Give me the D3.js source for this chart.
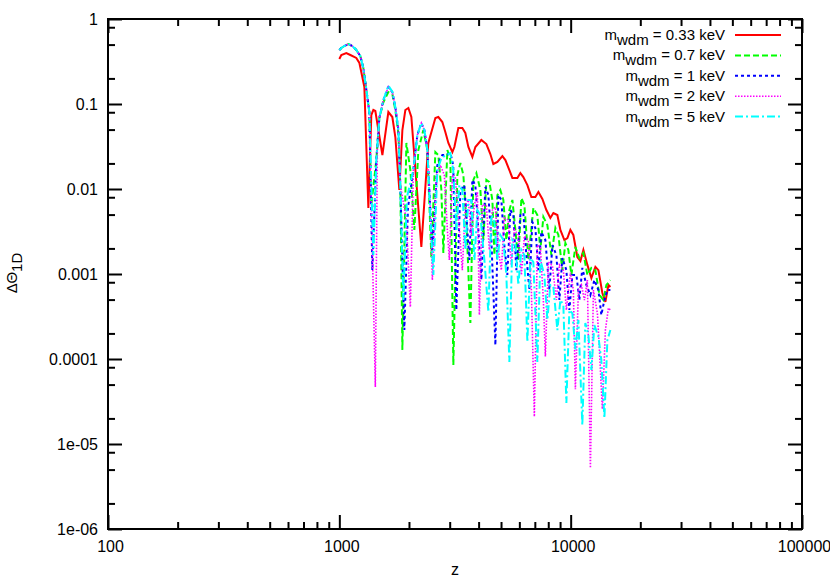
<!DOCTYPE html>
<html>
<head>
<meta charset="utf-8">
<script src="https://cdn.jsdelivr.net/npm/d3@7"></script>
<style>
body{margin:0;background:#fff}
svg{display:block}
text{font-family:"Liberation Sans",Arial,sans-serif;font-size:15px;fill:#000}
</style>
</head>
<body>
<svg id="chart" width="830" height="581"></svg>
<script>
// axis ticks
const xTicks = [100, 1000, 10000, 100000];
const yTicks = [1, 0.1, 0.01, 0.001, 0.0001, 1e-5, 1e-6];
const yTickLabels = ["1", "0.1", "0.01", "0.001", "0.0001", "1e-05", "1e-06"];

const masses = ["0.33", "0.7", "1", "2", "5"];
const colors = ["#ff0000", "#00ff00", "#0000ff", "#ff00ff", "#00ffff"];
const dashes = [null, "6,3", "3,3", "1.5,1.5", "8,3,2,3"];

// [z, dTheta]
const wdm033 = [[1000,0.338],[1020,0.377],[1072,0.398],[1116,0.377],[1184,0.348],[1221,0.304],[1257,0.208],[1283,0.158],[1335,0.00598],[1375,0.0742],[1403,0.085],[1431,0.0827],[1535,0.0251],[1629,0.0805],[1695,0.0703],[1746,0.0409],[1817,0.00973],[1873,0.0494],[1929,0.085],[1988,0.0897],[2048,0.0703],[2262,0.00208],[2425,0.0348],[2601,0.0684],[2679,0.0703],[2788,0.0614],[2872,0.0469],[2960,0.0348],[3081,0.0272],[3143,0.0312],[3270,0.0522],[3402,0.0522],[3505,0.0456],[3612,0.0312],[3759,0.0238],[3873,0.0312],[4111,0.0377],[4321,0.0338],[4496,0.0258],[4632,0.0197],[4822,0.0208],[5068,0.0244],[5222,0.0219],[5433,0.0167],[5598,0.0135],[5884,0.0135],[6061,0.0154],[6244,0.0138],[6500,0.0111],[6763,0.00805],[7037,0.00805],[7253,0.00922],[7546,0.00763],[7852,0.00566],[8170,0.00456],[8418,0.00522],[8760,0.00494],[9027,0.0033],[9393,0.00251],[9679,0.00265],[9970,0.0033],[10270,0.00288],[10690,0.00158],[11020,0.00142],[11350,0.00192],[11810,0.00128],[12290,0.000897],[12790,0.00121],[13180,0.00111],[13710,0.000598],[14130,0.000469],[14560,0.000743],[14850,0.000703]];

const earlyPeak = [[1000,0.432],[1020,0.456],[1051,0.481],[1094,0.508],[1138,0.481],[1184,0.432],[1232,0.367],[1270,0.265],[1309,0.146],[1348,0.0805]];

const wdm07 = [[1375,0.00648],[1445,0.0219],[1489,0.0684],[1550,0.105],[1629,0.138],[1695,0.13],[1746,0.085],[1800,0.045],[1835,0.0111],[1873,0.000128],[1949,0.0348],[2028,0.0167],[2110,0.0033],[2196,0.0288],[2308,0.0494],[2402,0.0288],[2499,0.00158],[2601,0.0272],[2679,0.025],[2761,0.00973],[2816,0.00177],[2931,0.0288],[3020,0.0219],[3111,0.000085],[3237,0.0146],[3336,0.0202],[3437,0.0146],[3540,0.00432],[3685,0.000265],[3797,0.0128],[3912,0.0154],[4071,0.00973],[4195,0.00251],[4321,0.0128],[4452,0.0121],[4587,0.00743],[4680,0.00167],[4822,0.0085],[4966,0.00973],[5117,0.00743],[5272,0.00251],[5433,0.00566],[5598,0.00743],[5767,0.0033],[5941,0.00146],[6123,0.00784],[6308,0.00648],[6563,0.00146],[6898,0.00598],[7178,0.00494],[7397,0.00192],[7620,0.00469],[7930,0.00377],[8255,0.00167],[8589,0.00348],[8850,0.00288],[9206,0.00111],[9486,0.00232],[9773,0.00192],[10070,0.000973],[10480,0.00208],[10900,0.00154],[11350,0.00177],[11810,0.000973],[12290,0.00118],[12790,0.00111],[13310,0.000566],[13850,0.000494],[14270,0.000743],[14850,0.000849]];

const wdm1 = [[1389,0.00111],[1445,0.0219],[1489,0.0684],[1550,0.111],[1629,0.158],[1695,0.138],[1746,0.0922],[1800,0.0494],[1835,0.0111],[1910,0.000219],[1980,0.006],[2089,0.0167],[2174,0.0432],[2262,0.0598],[2331,0.0494],[2402,0.0288],[2524,0.00192],[2653,0.0191],[2788,0.0251],[2901,0.0251],[3020,0.0265],[3107,0.0191],[3205,0.000377],[3336,0.00973],[3470,0.0111],[3575,0.0033],[3648,0.00146],[3759,0.0128],[3873,0.0111],[3990,0.0033],[4111,0.00085],[4278,0.01057],[4408,0.0085],[4542,0.00251],[4727,0.000146],[4869,0.0085],[5016,0.00743],[5168,0.00219],[5324,0.000973],[5486,0.00566],[5652,0.00494],[5824,0.00111],[6061,0.00494],[6244,0.00522],[6433,0.00167],[6628,0.000648],[6828,0.00409],[7037,0.00348],[7253,0.00111],[7468,0.00312],[7775,0.00251],[8091,0.000648],[8336,0.00219],[8676,0.00167],[8939,0.000494],[9206,0.00154],[9581,0.00111],[9871,0.000377],[10170,0.000973],[10590,0.000973],[10900,0.000494],[11230,0.00118],[11690,0.000743],[12170,0.000566],[12660,0.000849],[13180,0.000648],[13570,0.00033],[13990,0.000494],[14410,0.000648],[14850,0.000648]];

const wdm2 = [[1431,0.0000468],[1460,0.03],[1489,0.0684],[1550,0.111],[1629,0.158],[1695,0.138],[1746,0.0922],[1800,0.0494],[1835,0.0111],[1949,0.00432],[2028,0.000409],[2089,0.0167],[2174,0.0432],[2262,0.0598],[2331,0.0494],[2402,0.0288],[2474,0.00566],[2524,0.000849],[2627,0.0146],[2734,0.0191],[2844,0.0146],[2931,0.0033],[2989,0.00146],[3081,0.0146],[3173,0.0135],[3303,0.0033],[3402,0.00111],[3505,0.00648],[3612,0.00743],[3721,0.00288],[3836,0.00648],[3952,0.00922],[4030,0.00033],[4152,0.00648],[4321,0.00648],[4452,0.00192],[4587,0.00566],[4727,0.0061],[4869,0.00192],[5016,0.00111],[5168,0.00456],[5378,0.00432],[5541,0.00128],[5709,0.0033],[5941,0.00288],[6123,0.000973],[6308,0.0028],[6563,0.00251],[6763,0.000648],[6966,0.000021],[7178,0.00219],[7397,0.00205],[7620,0.000494],[7775,0.000107],[8010,0.00138],[8336,0.00125],[8676,0.000494],[8939,0.00128],[9298,0.00111],[9581,0.000377],[9970,0.00104],[10270,0.000648],[10480,0.000044],[10800,0.000648],[11130,0.000743],[11470,0.000494],[11810,0.000849],[12170,0.00000522],[12540,0.000648],[13050,0.000345],[13310,0.00013],[13710,0.0000258],[14130,0.000219],[14560,0.000398],[14850,0.000377]];

const wdm5 = [[1403,0.00167],[1445,0.0219],[1489,0.0684],[1550,0.111],[1629,0.165],[1695,0.14],[1746,0.0922],[1800,0.0494],[1835,0.0111],[1891,0.000494],[1960,0.008],[2089,0.0167],[2174,0.0432],[2262,0.0598],[2331,0.0494],[2402,0.0288],[2474,0.00494],[2550,0.000973],[2653,0.0167],[2761,0.0232],[2901,0.025],[3020,0.0265],[3107,0.0167],[3205,0.0033],[3303,0.0111],[3402,0.00973],[3505,0.00192],[3612,0.00743],[3721,0.00743],[3836,0.00146],[3952,0.00566],[4071,0.00494],[4237,0.00146],[4408,0.000357],[4542,0.00494],[4680,0.00409],[4822,0.00146],[4966,0.00288],[5117,0.00251],[5272,0.000973],[5433,0.0000922],[5598,0.00251],[5767,0.00219],[5941,0.000743],[6123,0.00192],[6308,0.00167],[6500,0.000158],[6694,0.00154],[6898,0.00138],[7178,0.0000922],[7397,0.00146],[7697,0.000973],[7930,0.000288],[8170,0.000743],[8418,0.000703],[8760,0.000219],[9027,0.000494],[9298,0.000432],[9581,0.0000304],[9871,0.000377],[10170,0.000345],[10480,0.00013],[10800,0.000288],[11230,0.0000167],[11570,0.000265],[11930,0.000192],[12290,0.0000743],[12660,0.000251],[13180,0.000183],[13570,0.0000973],[13990,0.0000202],[14410,0.000167],[14850,0.000219]];

const allSeries = [wdm033, earlyPeak.concat(wdm07), earlyPeak.concat(wdm1), earlyPeak.concat(wdm2), earlyPeak.concat(wdm5)];

let mLeft = 108, mRight = 802, mTop = 19, mBottom = 529;

let svg = d3.select('#chart');

let x = d3.scaleLog().domain([100, 100000]).range([mLeft, mRight]);
let y = d3.scaleLog().domain([1e-6, 1]).range([mBottom, mTop]);

// minor ticks
let xMinor = [];
for (let k = 2; k <= 4; k++) for (let m = 2; m <= 9; m++) xMinor.push(m * Math.pow(10, k));
let yMinor = [];
for (let k = -6; k <= -1; k++) [2, 5, 8].forEach(m => yMinor.push(m * Math.pow(10, k)));

function styleAxis(g){
    g.select('.domain').remove();
    g.selectAll('line').attr('stroke', '#000').attr('stroke-width', 2);
}

svg.append('g').attr('transform', `translate(0,${mBottom})`)
    .call(d3.axisBottom(x).tickValues(xTicks).tickSize(-14).tickPadding(12).tickFormat(d3.format('d')))
    .call(styleAxis)
    .selectAll('text').attr('dx', 2).style('font-size', '16px').style('font-family', '"Liberation Sans",Arial,sans-serif');
svg.append('g').attr('transform', `translate(0,${mBottom})`)
    .call(d3.axisBottom(x).tickValues(xMinor).tickSize(-7).tickFormat(''))
    .call(styleAxis);
svg.append('g').attr('transform', `translate(0,${mTop})`)
    .call(d3.axisTop(x).tickValues(xTicks).tickSize(-14).tickFormat(''))
    .call(styleAxis);
svg.append('g').attr('transform', `translate(0,${mTop})`)
    .call(d3.axisTop(x).tickValues(xMinor).tickSize(-7).tickFormat(''))
    .call(styleAxis);

svg.append('g').attr('transform', `translate(${mLeft},0)`)
    .call(d3.axisLeft(y).tickValues(yTicks).tickSize(-14).tickPadding(10).tickFormat((d, i) => yTickLabels[i]))
    .call(styleAxis)
    .selectAll('text').style('font-size', '16px').style('font-family', '"Liberation Sans",Arial,sans-serif');
svg.append('g').attr('transform', `translate(${mLeft},0)`)
    .call(d3.axisLeft(y).tickValues(yMinor).tickSize(-7).tickFormat(''))
    .call(styleAxis);
svg.append('g').attr('transform', `translate(${mRight},0)`)
    .call(d3.axisRight(y).tickValues(yTicks).tickSize(-14).tickFormat(''))
    .call(styleAxis);
svg.append('g').attr('transform', `translate(${mRight},0)`)
    .call(d3.axisRight(y).tickValues(yMinor).tickSize(-7).tickFormat(''))
    .call(styleAxis);

// curves
let line = d3.line().x(d => x(d[0])).y(d => y(d[1]));

allSeries.forEach((s, i) => {
    svg.append('path')
        .datum(s)
        .attr('d', line)
        .attr('fill', 'none')
        .attr('stroke', colors[i])
        .attr('stroke-width', i == 3 ? 1.6 : 2)
        .attr('stroke-dasharray', dashes[i])
        .attr('stroke-linejoin', 'miter');
});

// frame
svg.append('rect')
    .attr('x', mLeft).attr('y', mTop)
    .attr('width', mRight - mLeft).attr('height', mBottom - mTop)
    .attr('fill', 'none').attr('stroke', '#000').attr('stroke-width', 2);

// axis titles
svg.append('text').attr('x', (mLeft + mRight) / 2).attr('y', 575)
    .attr('text-anchor', 'middle').style('font-size', '16px').text('z');

let yl = svg.append('text').attr('transform', 'translate(17,273) rotate(-90)')
    .attr('text-anchor', 'middle');
yl.append('tspan').text('ΔΘ');
yl.append('tspan').attr('dy', 5).text('1D');

// legend
let legend = svg.append('g');
masses.forEach((m, i) => {
    let yy = 35 + i * 20.4;
    let t = legend.append('text').attr('x', 725).attr('y', yy + 5).attr('text-anchor', 'end');
    t.append('tspan').text('m');
    t.append('tspan').attr('dy', 5).text('wdm');
    t.append('tspan').attr('dy', -5).text(` = ${m} keV`);
    legend.append('line')
        .attr('x1', 735).attr('x2', 781)
        .attr('y1', yy).attr('y2', yy)
        .attr('stroke', colors[i])
        .attr('stroke-width', i == 3 ? 1.6 : 2)
        .attr('stroke-dasharray', dashes[i]);
});
</script>
</body>
</html>
